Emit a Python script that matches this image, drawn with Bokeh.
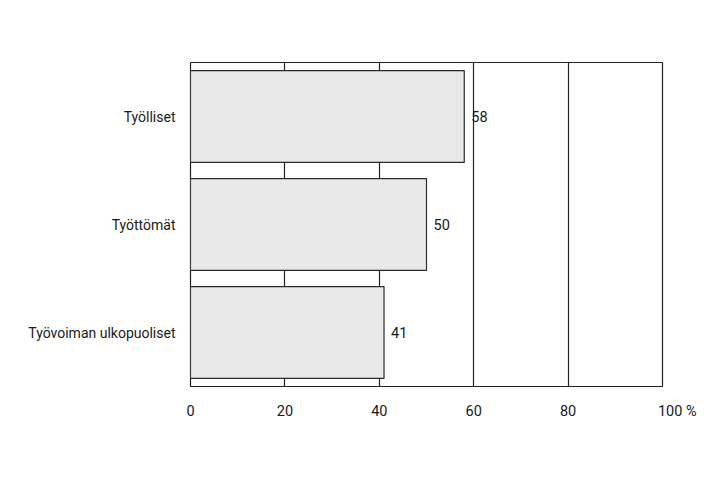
from bokeh.plotting import figure
from bokeh.models import ColumnDataSource, FixedTicker, Range1d
from bokeh.embed import file_html
from bokeh.resources import INLINE
from bokeh.core.properties import value

categories = ["Työlliset", "Työttömät", "Työvoiman ulkopuoliset"]
values = [58, 50, 41]
x_ticks = [0, 20, 40, 60, 80, 100]
x_tick_labels = ["0", "20", "40", "60", "80", "100 %"]

factors = list(reversed(categories))
src = ColumnDataSource(dict(cat=categories, val=values, lab=[str(v) for v in values]))

FONT = "Roboto"

p = figure(width=706, height=482, y_range=factors, x_range=Range1d(0, 100),
           output_backend="svg", toolbar_location=None,
           min_border_left=190, min_border_right=44, min_border_top=62, min_border_bottom=96)
p.outline_line_color = "#222222"
p.outline_line_width = 1.2
p.background_fill_color = "white"
p.border_fill_color = "white"

p.hbar(y="cat", left=0, right="val", height=0.85, source=src,
       fill_color="#e9e9e9", line_color="#2a2a2a", line_width=1.2)

p.text(x="val", y="cat", text="lab", source=src, x_offset=7,
       text_baseline="middle", text_align="left", text_font=value(FONT),
       text_font_size="14.5px", text_color="#1a1a1a")

# pad the last label on the left so that "100" sits by its gridline and "%" trails it
overrides = {}
for t, lab in zip(x_ticks, x_tick_labels):
    overrides[t] = ("\u2003\u2003" + lab) if "%" in lab else lab

p.xaxis.ticker = FixedTicker(ticks=x_ticks)
p.xaxis.major_label_overrides = overrides
p.xaxis.axis_line_color = None
p.xaxis.major_tick_line_color = None
p.xaxis.minor_tick_line_color = None
p.xaxis.major_label_standoff = 10
p.xaxis.major_label_text_font = FONT
p.xaxis.major_label_text_font_size = "14.5px"
p.xaxis.major_label_text_color = "#1a1a1a"

p.yaxis.axis_line_color = None
p.yaxis.major_tick_line_color = None
p.yaxis.minor_tick_line_color = None
p.yaxis.major_label_standoff = 9
p.yaxis.major_label_text_font = FONT
p.yaxis.major_label_text_font_size = "14px"
p.yaxis.major_label_text_color = "#1a1a1a"

p.ygrid.grid_line_color = None
p.xgrid.ticker = FixedTicker(ticks=x_ticks)
p.xgrid.grid_line_color = "#222222"
p.xgrid.grid_line_width = 1.2
p.xgrid.grid_line_alpha = 1.0

open("out.html", "w").write(file_html(p, INLINE))
